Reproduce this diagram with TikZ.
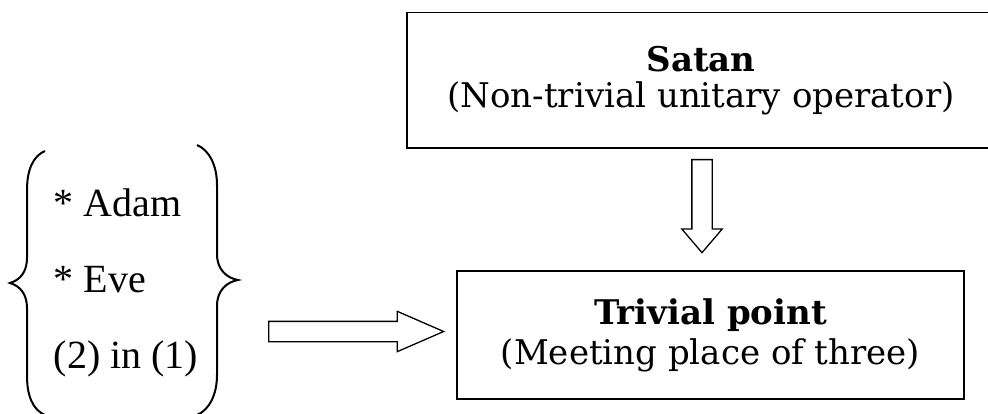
\documentclass[tikz,border=0pt]{standalone}
\usepackage{fontspec}
\setmainfont{DejaVu Serif}
\newfontfamily\listfont{Liberation Serif}
\usetikzlibrary{shapes.arrows,positioning,calc}

\begin{document}
\begin{tikzpicture}[
    x=1pt,
    y=-1pt,
    box/.style ={
        draw=black,
        line width=1.7pt,
        align=center,
        inner sep=0pt,
        font=\fontsize{34}{36}\selectfont
    },
    blockarrow/.style ={
        single arrow,
        draw=black,
        line width=1.3pt,
        fill=white,
        inner xsep=0pt,
        inner ysep=9.5pt,
        single arrow head indent=0pt,
        single arrow head extend=10pt,
        minimum width=39pt,
        anchor=tail
    },
    brc/.style ={
        line width=2pt
    }
    ]
    \useasboundingbox (0,0) rectangle (988,414);

    \node[box, minimum width=588pt, minimum height=135.5pt] (satan) at (701,80.25)
        {\textbf{Satan}\\(Non-trivial unitary operator)};
    \node[box, minimum width=507pt, minimum height=128pt] (triv) at (710.5,335)
        {\textbf{Trivial point}\\[4pt](Meeting place of three)};
    \node[align=left, inner sep=0pt, font=\listfont\fontsize{40}{76}\selectfont] (list) at (126,283)
        {* Adam\\* Eve\\(2) in (1)};

    % braces round the list
    \draw[brc] (45,151) .. controls (33,156) and (27,170) .. (27,190) -- (27,258)
        .. controls (27,272) and (20,280) .. (10,283) .. controls (20,286) and (27,294) .. (27,308)
        -- (27,376) .. controls (27,396) and (33,410) .. (45,415);
    \draw[brc] (197,145) .. controls (209,150) and (217,165) .. (217,185) -- (217,254)
        .. controls (217,270) and (227,278) .. (238,280) .. controls (227,282) and (217,290) .. (217,306)
        -- (217,375) .. controls (217,395) and (209,410) .. (197,415);

    % block arrows
    \node[blockarrow, minimum height=175pt, single arrow tip angle=47] (rarr) at (268,331.5) {};
    \node[blockarrow, minimum height=93pt, single arrow tip angle=81, rotate=-90] (darr) at (702,159) {};
\end{tikzpicture}
\end{document}
